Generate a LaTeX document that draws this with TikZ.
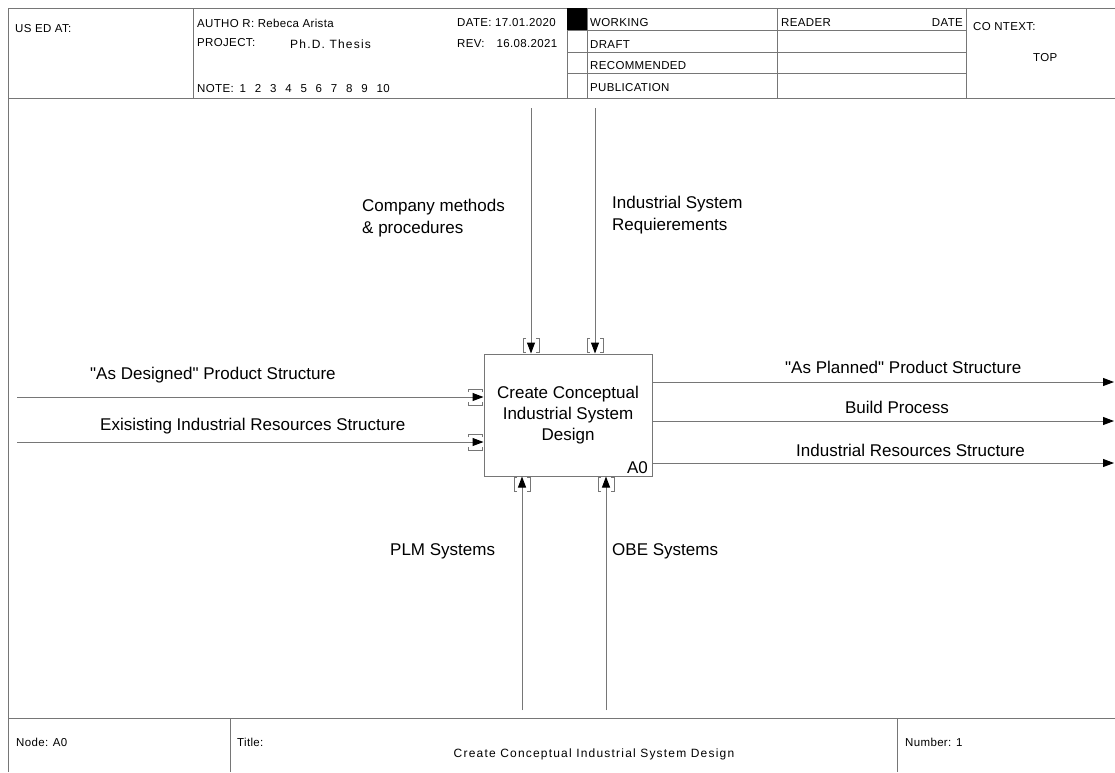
\documentclass[tikz,border=0pt]{standalone}
\usepackage{fontspec}
\setmainfont{Liberation Sans}
\newfontfamily\hdrfont[LetterSpace=3]{Liberation Sans}
\newfontfamily\widefont[LetterSpace=10]{Liberation Sans}
\usetikzlibrary{arrows.meta}
\definecolor{rulegray}{RGB}{118,118,118}
\newcommand{\notedigit}[1]{\makebox[15.2pt][l]{#1}}
\begin{document}
\begin{tikzpicture}[x=1pt,y=-1pt,
  frame/.style={draw=rulegray,line width=1pt},
  flow/.style={draw=rulegray,line width=1pt,-{Triangle[length=11pt,width=8pt,color=black]}},
  hdr/.style={anchor=base west,inner sep=0pt,font=\hdrfont\fontsize{11.5}{13}\selectfont},
  lbl/.style={anchor=base west,inner sep=0pt,font=\fontsize{17}{22}\selectfont},
  lbl2/.style={anchor=north west,inner sep=0pt,align=left,font=\fontsize{17}{22}\selectfont},
  activity/.style={draw=rulegray,line width=1pt,minimum width=168pt,minimum height=122pt,
    inner sep=0pt,align=center,font=\fontsize{17}{21}\selectfont},
  tunnel/.pic={\draw[rulegray,line width=1pt]
     (-5,-15) -- (-8,-15) -- (-8,-1) -- (-5,-1)
     (5,-15) -- (8,-15) -- (8,-1) -- (5,-1);}
]
\fill[white] (0,0) rectangle (1115,772);
\useasboundingbox (0,0) rectangle (1115,772);

% ---- sheet frame ----
\draw[frame] (1115,8) -- (8,8) -- (8,772);
\draw[frame] (8,98) -- (1115,98);
\draw[frame] (8,718) -- (1115,718);
% header columns
\foreach \cx in {193,567,587,777,966} \draw[frame] (\cx,8) -- (\cx,98);
\foreach \ry in {30,52,73} \draw[frame] (567,\ry) -- (966,\ry);
\fill[black] (567,8) rectangle (587,30);
% footer columns
\draw[frame] (230,718) -- (230,772);
\draw[frame] (897,718) -- (897,772);

% ---- header text ----
\node[hdr] (usedat)  at (15,32)   {US ED AT:};
\node[hdr] (author)  at (197,27)  {AUTHO R: Rebeca Arista};
\node[hdr] (project) at (197,46.5){PROJECT:};
\node[anchor=base west,inner sep=0pt,font=\widefont\fontsize{12}{14}\selectfont] (thesis) at (290,48.5) {Ph.D. Thesis};
\node[hdr] (note)    at (197,92.5){NOTE:\hspace{6pt}\notedigit{1}\notedigit{2}\notedigit{3}\notedigit{4}\notedigit{5}\notedigit{6}\notedigit{7}\notedigit{8}\notedigit{9}10};
\node[hdr] (date)    at (457,26.5){DATE: 17.01.2020};
\node[hdr] (rev)     at (457,47.5){REV:\hspace{12pt}16.08.2021};
\node[hdr] (working) at (590,26.5){WORKING};
\node[hdr] (draft)   at (590,48)  {DRAFT};
\node[hdr] (recomm)  at (590,69.5){RECOMMENDED};
\node[hdr] (public)  at (590,91.5){PUBLICATION};
\node[hdr] (reader)  at (781,26.5){READER};
\node[hdr,anchor=base east] (rdate) at (963,26.5){DATE};
\node[hdr] (context) at (973,30)  {CO NTEXT:};
\node[hdr] (topctx)  at (1033,61.5){TOP};

% ---- footer text ----
\node[hdr] (nodelbl)  at (16,746.5) {Node: A0};
\node[hdr] (titlelbl) at (237,746.5){Title:};
\node[anchor=base,inner sep=0pt,font=\widefont\fontsize{12}{14}\selectfont] (title) at (594,757) {Create Conceptual Industrial System Design};
\node[hdr] (number)   at (905,746.5){Number: 1};

% ---- activity box ----
\node[activity] (box) at (568,415) {Create Conceptual\\Industrial System\\Design};
\node[anchor=base east,inner sep=0pt,font=\fontsize{17}{20}\selectfont] (a0) at (648,473) {A0};

% ---- free ends of the ICOM arrows ----
\coordinate (c1) at (531,108);
\coordinate (c2) at (595,108);
\coordinate (i1) at (17,397);
\coordinate (i2) at (17,442);
\coordinate (o1) at (1114,382);
\coordinate (o2) at (1114,421);
\coordinate (o3) at (1114,463);
\coordinate (m1) at (522,710);
\coordinate (m2) at (606,710);

% controls
\draw[flow] (c1) -- (c1 |- box.north);
\draw[flow] (c2) -- (c2 |- box.north);
\pic at (c1 |- box.north) {tunnel};
\pic at (c2 |- box.north) {tunnel};
% inputs
\draw[flow] (i1) -- (i1 -| box.west);
\draw[flow] (i2) -- (i2 -| box.west);
\pic[rotate=90] at (i1 -| box.west) {tunnel};
\pic[rotate=90] at (i2 -| box.west) {tunnel};
% outputs
\draw[flow] (o1 -| box.east) -- (o1);
\draw[flow] (o2 -| box.east) -- (o2);
\draw[flow] (o3 -| box.east) -- (o3);
% mechanisms
\draw[flow] (m1) -- (m1 |- box.south);
\draw[flow] (m2) -- (m2 |- box.south);
\pic[rotate=180] at (m1 |- box.south) {tunnel};
\pic[rotate=180] at (m2 |- box.south) {tunnel};

% ---- arrow labels ----
\node[lbl2] (lctrl1) at (362,199) {Company methods\\\& procedures};
\node[lbl2] (lctrl2) at (612,196) {Industrial System\\Requierements};
\node[lbl] (lin1)  at (90,379)  {\textquotedbl As Designed\textquotedbl{} Product Structure};
\node[lbl] (lin2)  at (100,430) {Exisisting Industrial Resources Structure};
\node[lbl] (lout1) at (785,373) {\textquotedbl As Planned\textquotedbl{} Product Structure};
\node[lbl,anchor=base] (lout2) at (897,413) {Build Process};
\node[lbl] (lout3) at (796,456) {Industrial Resources Structure};
\node[lbl] (lmech1) at (390,555) {PLM Systems};
\node[lbl] (lmech2) at (612,555) {OBE Systems};
\end{tikzpicture}
\end{document}
